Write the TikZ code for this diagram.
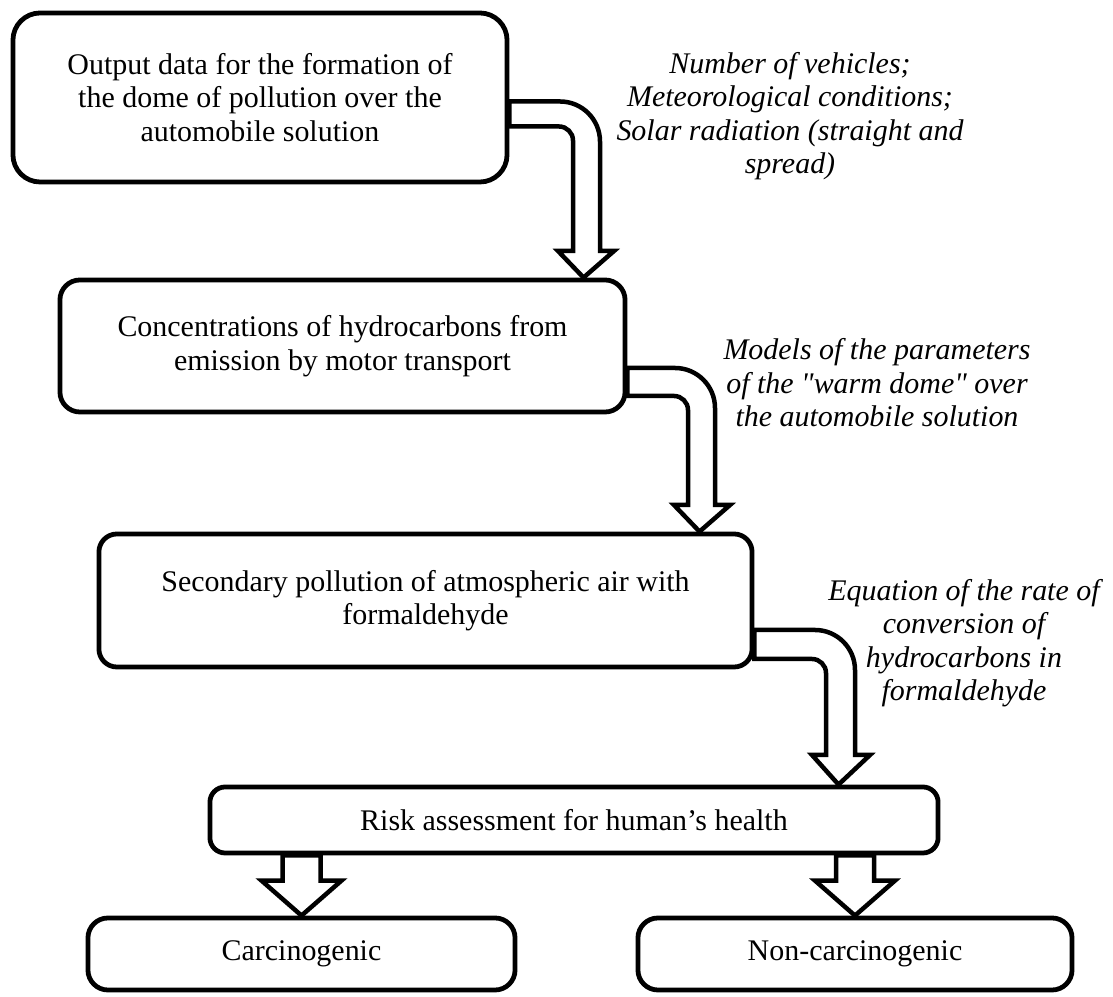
\documentclass[tikz,border=0pt]{standalone}
\usepackage{fontspec}
\setmainfont{Liberation Serif}[Ligatures=TeXOff]
\usetikzlibrary{calc}

\begin{document}
\begin{tikzpicture}[x=0.025cm,y=0.025cm,
	box/.style={draw,line width=3.4pt,rounded corners=0.5cm,align=center,inner sep=0pt},
	note/.style={align=center,font=\itshape},
	fat/.style={draw,line width=3.2pt,fill=white,line join=miter}]
\fontsize{21.3pt}{23.8pt}\selectfont
\useasboundingbox (0,0) rectangle (1113,997);
\node[box,minimum width=12.35cm,minimum height=4.225cm,rounded corners=0.68cm] (out) at (260,899.5) {Output data for the formation of\\ the dome of pollution over the\\ automobile solution};
\node[box,minimum width=14.125cm,minimum height=3.3cm] (conc) at (342.5,651) {Concentrations of hydrocarbons from\\ emission by motor transport};
\node[box,minimum width=16.325cm,minimum height=3.325cm,rounded corners=0.45cm] (sec) at (425.5,396.5) {Secondary pollution of atmospheric air with\\ formaldehyde};
\node[box,minimum width=18.2cm,minimum height=1.65cm,rounded corners=0.38cm] (risk) at (574,177) {Risk assessment for human’s health};
\node[box,minimum width=10.675cm,minimum height=1.8cm] (carc) at (301.5,43) {Carcinogenic};
\node[box,minimum width=10.85cm,minimum height=1.8cm] (noncarc) at (855,43) {Non-carcinogenic};
\node[note] (inputs) at (790,881) {Number of vehicles;\\ Meteorological conditions;\\ Solar radiation (straight and\\ spread)};
\node[note] (models) at (877,614) {Models of the parameters\\ of the "warm dome" over\\ the automobile solution};
\node[note] (rate) at (964,354) {Equation of the rate of\\ conversion of\\ hydrocarbons in\\ formaldehyde};
\coordinate (t1) at ($(conc.north west)+(526,0)$);
\coordinate (t2) at ($(sec.north west)+(603,0)$);
\coordinate (t3) at ($(risk.north west)+(631,0)$);
\draw[fat] ($(out.east)+(0,-4)$) -- (560,895.5) arc[start angle=90,end angle=0,radius=40] -- (600,746) -- (614,746) -- (t1) -- (558,746) -- (573,746) -- (573,856.5) arc[start angle=0,end angle=90,radius=14] -- ($(out.east)+(0,-29)$) -- cycle;
\draw[fat] ($(conc.east)+(0,-22)$) -- (675,629) arc[start angle=90,end angle=0,radius=40] -- (715,492) -- (730,492) -- (t2) -- (674,492) -- (688,492) -- (688,587) arc[start angle=0,end angle=90,radius=14] -- ($(conc.east)+(0,-50)$) -- cycle;
\draw[fat] ($(sec.east)+(0,-29.5)$) -- (815,367) arc[start angle=90,end angle=0,radius=40] -- (855,242) -- (870,242) -- (t3) -- (812,242) -- (826,242) -- (826,324) arc[start angle=0,end angle=90,radius=14] -- ($(sec.east)+(0,-58.5)$) -- cycle;
\draw[fat] (carc.north) -- ++(40,35) -- ++(-21,0) -- ($(carc.north |- risk.south)+(19,0)$) -- ($(carc.north |- risk.south)+(-19,0)$) -- ($(carc.north)+(-19,35)$) -- ++(-21,0) -- cycle;
\draw[fat] (noncarc.north) -- ++(40,35) -- ++(-21,0) -- ($(noncarc.north |- risk.south)+(19,0)$) -- ($(noncarc.north |- risk.south)+(-19,0)$) -- ($(noncarc.north)+(-19,35)$) -- ++(-21,0) -- cycle;
\end{tikzpicture}
\end{document}
